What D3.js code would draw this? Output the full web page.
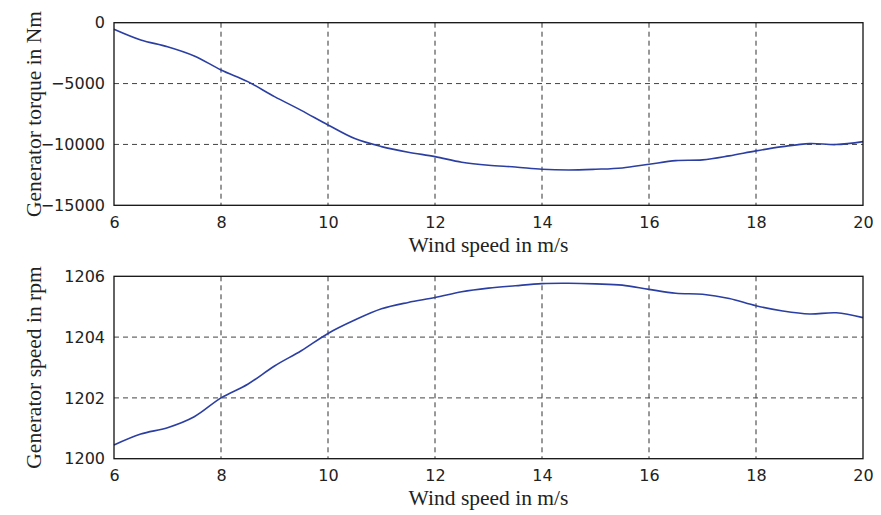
<!DOCTYPE html>
<html>
<head>
<meta charset="utf-8">
<script src="https://cdn.jsdelivr.net/npm/d3@7"></script>
<style>
  body { margin: 0; background: #fff; }
  svg { display: block; }
  .tick text { font-family: "DejaVu Sans", sans-serif; font-size: 16px; fill: #222; }
  .title { font-family: "Liberation Serif", "Times New Roman", serif; font-size: 21.5px; fill: #222; }
</style>
</head>
<body>
<svg width="881" height="515"></svg>
<script>
// wind speed samples (m/s)
var windSpeed = [6, 6.5, 7, 7.5, 8, 8.5, 9, 9.5, 10, 10.5, 11, 11.5, 12, 12.5, 13, 13.5,
                 14, 14.5, 15, 15.5, 16, 16.5, 17, 17.5, 18, 18.5, 19, 19.5, 20];
// generator torque (Nm)
var torque = [-540, -1420, -1970, -2730, -3880, -4840, -6070, -7200, -8400, -9520, -10180,
              -10640, -11000, -11460, -11710, -11850, -12040, -12100, -12040, -11930,
              -11630, -11330, -11270, -10940, -10530, -10180, -9930, -10010, -9770];
// generator speed (rpm)
var speed = [1200.45, 1200.81, 1201.02, 1201.38, 1202.0, 1202.45, 1203.05, 1203.55, 1204.12,
             1204.56, 1204.93, 1205.14, 1205.30, 1205.49, 1205.61, 1205.69, 1205.76, 1205.77,
             1205.75, 1205.71, 1205.57, 1205.44, 1205.41, 1205.27, 1205.03, 1204.86, 1204.76,
             1204.80, 1204.64];

var xTicks = [6, 8, 10, 12, 14, 16, 18, 20];
var torqueTicks = [0, -5000, -10000, -15000];
var speedTicks = [1200, 1202, 1204, 1206];

var svg = d3.select("svg");
var left = 114, right = 863;

var x = d3.scaleLinear().domain([6, 20]).range([left, right]);

function panel(top, bottom, domain, ticks, values, yTitle) {
    var y = d3.scaleLinear().domain(domain).range([bottom, top]);
    var g = svg.append("g");

    // grid
    g.append("g").selectAll("line")
        .data(xTicks.slice(1, -1))
        .enter().append("line")
        .attr("x1", function(d) { return x(d); })
        .attr("x2", function(d) { return x(d); })
        .attr("y1", top).attr("y2", bottom)
        .attr("stroke", "#333").attr("stroke-width", 1)
        .attr("stroke-dasharray", "5,4");
    g.append("g").selectAll("line")
        .data(ticks.filter(function(d) { return d !== domain[0] && d !== domain[1]; }))
        .enter().append("line")
        .attr("x1", left).attr("x2", right)
        .attr("y1", function(d) { return y(d); })
        .attr("y2", function(d) { return y(d); })
        .attr("stroke", "#444").attr("stroke-width", 1)
        .attr("stroke-dasharray", "5,4");

    // axes
    var xa = g.append("g")
        .attr("transform", "translate(0," + bottom + ")")
        .call(d3.axisBottom(x).tickValues(xTicks).tickSize(0).tickPadding(11)
            .tickFormat(d3.format("d")));
    xa.select(".domain").remove();

    var ya = g.append("g")
        .attr("transform", "translate(" + left + ",0)")
        .call(d3.axisLeft(y).tickValues(ticks).tickSize(0).tickPadding(9)
            .tickFormat(function(d) { return d < 0 ? "\u2212" + Math.abs(d) : d; }));
    ya.select(".domain").remove();

    // line
    g.append("path")
        .datum(values)
        .attr("fill", "none")
        .attr("stroke", "#2b3fa3")
        .attr("stroke-width", 1.6)
        .attr("d", d3.line()
            .x(function(d, i) { return x(windSpeed[i]); })
            .y(function(d) { return y(d); })
            .curve(d3.curveCatmullRom.alpha(0.5)));

    // frame
    g.append("rect")
        .attr("x", left).attr("y", top)
        .attr("width", right - left).attr("height", bottom - top)
        .attr("fill", "none").attr("stroke", "#111").attr("stroke-width", 1.3);

    // titles
    g.append("text").attr("class", "title")
        .attr("x", (left + right) / 2).attr("y", bottom + 46.5)
        .attr("text-anchor", "middle")
        .text("Wind speed in m/s");
    g.append("text").attr("class", "title")
        .attr("transform", "translate(26," + (top + bottom) / 2 + ") rotate(-90)")
        .attr("text-anchor", "middle")
        .attr("dy", "0.72em")
        .text(yTitle);
}

panel(22.7, 205.3, [-15000, 0], torqueTicks, torque, "Generator torque in Nm");
panel(276.3, 458.7, [1200, 1206], speedTicks, speed, "Generator speed in rpm");
</script>
</body>
</html>
